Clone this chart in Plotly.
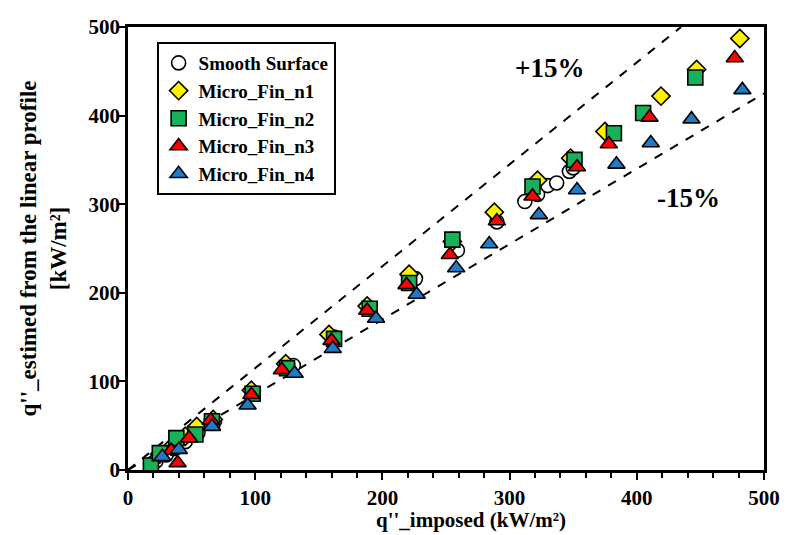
import plotly.graph_objects as go

# Smooth Surface
smooth_x = [22, 30, 36, 45, 55, 68, 98, 130, 162, 190, 226, 259, 290, 312, 322, 330, 337, 347, 350]
smooth_y = [10, 17, 24, 32, 42, 55, 87, 118, 150, 183, 216, 248, 280, 303, 311, 321, 324, 337, 341]
# Micro_Fin_n1
n1_x = [25, 35, 45, 54, 67, 97, 124, 158, 188, 221, 255, 288, 322, 348, 375, 419, 447, 481]
n1_y = [18, 27, 38, 49, 57, 90, 120, 153, 185, 221, 258, 291, 327, 352, 382, 422, 452, 487]
# Micro_Fin_n2
n2_x = [18, 25, 38, 53, 66, 98, 125, 162, 190, 221, 255, 318, 351, 382, 405, 446]
n2_y = [5, 19, 36, 40, 55, 86, 115, 148, 182, 211, 260, 320, 350, 380, 403, 443]
# Micro_Fin_n3
n3_x = [34, 39, 48, 65, 97, 121, 160, 188, 219, 253, 290, 318, 353, 378, 410, 477]
n3_y = [22, 8, 36, 56, 85, 113, 146, 180, 209, 243, 281, 309, 342, 368, 398, 465]
# Micro_Fin_n4
n4_x = [27, 40, 66, 94, 131, 161, 195, 227, 258, 284, 323, 353, 384, 411, 443, 483]
n4_y = [15, 23, 49, 73, 109, 137, 171, 198, 228, 255, 288, 316, 345, 369, 396, 429]

# +/-15% reference lines
upper_x = [0, 434.8]
upper_y = [0, 500]
lower_x = [0, 500]
lower_y = [0, 425]

FONT = "Liberation Serif, Times New Roman, serif"

fig = go.Figure()
fig.add_trace(go.Scatter(x=upper_x, y=upper_y, mode="lines", showlegend=False,
                         line=dict(color="black", width=2, dash="dash")))
fig.add_trace(go.Scatter(x=lower_x, y=lower_y, mode="lines", showlegend=False,
                         line=dict(color="black", width=2, dash="dash")))

mline = dict(color="black", width=1.6)
fig.add_trace(go.Scatter(x=smooth_x, y=smooth_y, mode="markers", name="Smooth Surface",
                         marker=dict(symbol="circle", size=14, color="white", line=mline)))
fig.add_trace(go.Scatter(x=n1_x, y=n1_y, mode="markers", name="Micro_Fin_n1",
                         marker=dict(symbol="diamond", size=14, color="#FFF200", line=mline)))
fig.add_trace(go.Scatter(x=n2_x, y=n2_y, mode="markers", name="Micro_Fin_n2",
                         marker=dict(symbol="square", size=15, color="#19B05A", line=mline)))
fig.add_trace(go.Scatter(x=n3_x, y=n3_y, mode="markers", name="Micro_Fin_n3",
                         marker=dict(symbol="triangle-up", size=15, color="#FF0000", line=mline)))
fig.add_trace(go.Scatter(x=n4_x, y=n4_y, mode="markers", name="Micro_Fin_n4",
                         marker=dict(symbol="triangle-up", size=15, color="#1F7BC8", line=mline)))

fig.add_annotation(x=331, y=454, text="<b>+15%</b>", showarrow=False,
                   font=dict(family=FONT, size=27, color="black"))
fig.add_annotation(x=441, y=307, text="<b>-15%</b>", showarrow=False,
                   font=dict(family=FONT, size=27, color="black"))
# x-axis title (placed slightly right of centre, as in the reference)
fig.add_annotation(xref="paper", yref="paper", x=0.54, y=-0.113, yanchor="middle",
                   text="<b>q''_imposed (kW/m²)</b>", showarrow=False,
                   font=dict(family=FONT, size=21, color="black"))

fig.update_layout(
    width=792, height=535,
    margin=dict(l=128, r=22, t=27, b=65),
    paper_bgcolor="white", plot_bgcolor="white",
    font=dict(family=FONT, size=20, color="black"),
    legend=dict(x=0.045, y=0.966, xanchor="left", yanchor="top",
                bordercolor="black", borderwidth=2, bgcolor="white",
                font=dict(family=FONT, size=19, color="black", weight="bold"),
                tracegroupgap=0, itemwidth=30, entrywidth=160, entrywidthmode="pixels"),
    xaxis=dict(range=[0, 500], dtick=100, showgrid=False, zeroline=False,
               showline=True, linecolor="black", linewidth=2.5, mirror=True,
               ticks="outside", ticklen=7, tickwidth=2, tickcolor="black",
               minor=dict(dtick=20, ticks="outside", ticklen=5, tickwidth=2, tickcolor="black"),
               tickfont=dict(family=FONT, size=21, color="black", weight="bold")),
    yaxis=dict(range=[0, 500], dtick=100, showgrid=False, zeroline=False,
               showline=True, linecolor="black", linewidth=2.5, mirror=True,
               ticks="outside", ticklen=6, tickwidth=2, tickcolor="black",
               ticklabelstandoff=-5,
               tickfont=dict(family=FONT, size=21, color="black", weight="bold"),
               title=dict(text="<b>q''_estimed from the linear profile<br>[kW/m²]</b>", standoff=16,
                          font=dict(family=FONT, size=23, color="black"))),
)

fig.write_html("out.html")
